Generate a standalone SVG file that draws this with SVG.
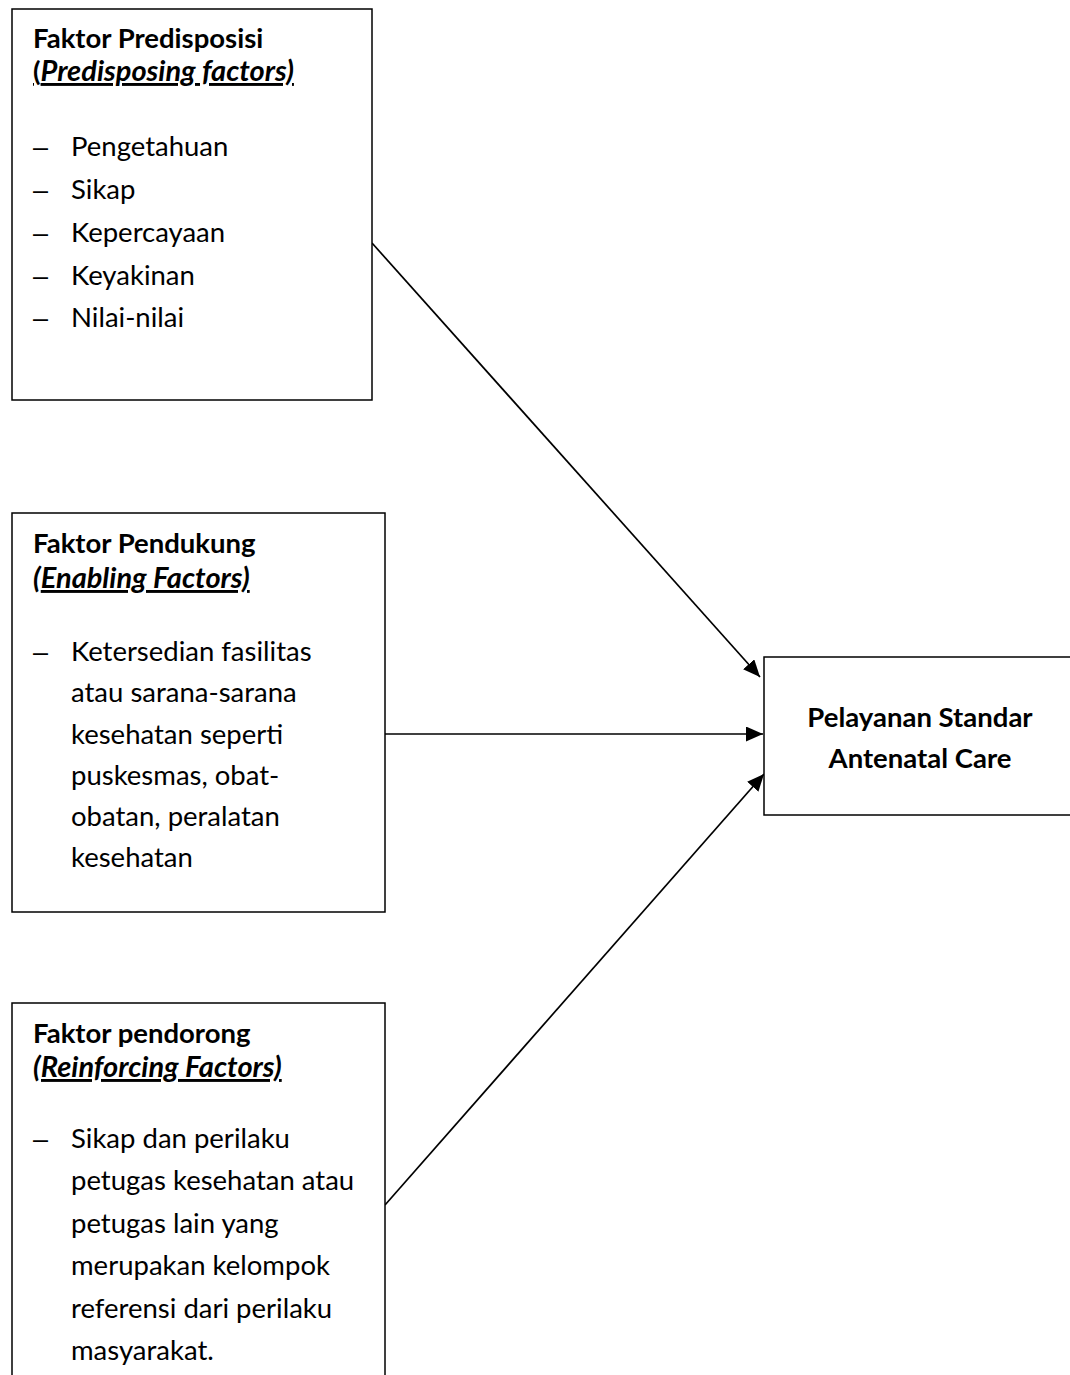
<svg xmlns="http://www.w3.org/2000/svg" width="1070" height="1375" viewBox="0 0 1070 1375">
<style>
.box{fill:#fff;stroke:#000;stroke-width:1.5}
.t{font-family:Lato,"Liberation Sans",sans-serif;font-size:27.5px;fill:#000}
.d{font-family:"Liberation Sans",sans-serif;font-size:27px;fill:#000}
.b{font-weight:bold}
.i{font-style:italic;font-size:29px}
.u{text-decoration:underline}
.con{stroke:#000;stroke-width:1.7;fill:none}
</style>
<defs>
<marker id="ah" markerUnits="userSpaceOnUse" markerWidth="18" markerHeight="16" refX="17" refY="7.5" orient="auto">
<path d="M0,0 L17,7.5 L0,15 z" fill="#000"/>
</marker>
</defs>
<rect width="1070" height="1375" fill="#fff"/>
<g id="connectors">
<line class="con" x1="372" y1="243" x2="760" y2="677" marker-end="url(#ah)"/>
<line class="con" x1="385" y1="734" x2="763" y2="734" marker-end="url(#ah)"/>
<line class="con" x1="385" y1="1205" x2="764" y2="774" marker-end="url(#ah)"/>
</g>
<g id="predisposing">
<rect class="box" x="12" y="9" width="360" height="391"/>
<text class="t b" x="33" y="48">Faktor Predisposisi</text>
<text class="t b u" x="33" y="81">(<tspan class="i">Predisposing factors)</tspan></text>
<text class="d" x="33" y="156">–</text><text class="t" x="71" y="156">Pengetahuan</text>
<text class="d" x="33" y="199">–</text><text class="t" x="71" y="199">Sikap</text>
<text class="d" x="33" y="242">–</text><text class="t" x="71" y="242">Kepercayaan</text>
<text class="d" x="33" y="285">–</text><text class="t" x="71" y="285">Keyakinan</text>
<text class="d" x="33" y="327">–</text><text class="t" x="71" y="327">Nilai-nilai</text>
</g>
<g id="enabling">
<rect class="box" x="12" y="513" width="373" height="399"/>
<text class="t b" x="33" y="553">Faktor Pendukung</text>
<text class="t b i" x="33" y="588">(<tspan class="u">Enabling Factors)</tspan></text>
<text class="d" x="33" y="661">–</text>
<text class="t" x="71" y="661">Ketersedian fasilitas</text>
<text class="t" x="71" y="702">atau sarana-sarana</text>
<text class="t" x="71" y="744">kesehatan seperti</text>
<text class="t" x="71" y="785">puskesmas, obat-</text>
<text class="t" x="71" y="826">obatan, peralatan</text>
<text class="t" x="71" y="867">kesehatan</text>
</g>
<g id="reinforcing">
<rect class="box" x="12" y="1003" width="373" height="400"/>
<text class="t b" x="33" y="1043">Faktor pendorong</text>
<text class="t b i u" x="33" y="1077">(Reinforcing Factors)</text>
<text class="d" x="33" y="1148">–</text>
<text class="t" x="71" y="1148">Sikap dan perilaku</text>
<text class="t" x="71" y="1190">petugas kesehatan atau</text>
<text class="t" x="71" y="1233">petugas lain yang</text>
<text class="t" x="71" y="1275">merupakan kelompok</text>
<text class="t" x="71" y="1318">referensi dari perilaku</text>
<text class="t" x="71" y="1360">masyarakat.</text>
</g>
<g id="outcome">
<rect class="box" x="764" y="657" width="320" height="158"/>
<text class="t b" x="920" y="727" text-anchor="middle">Pelayanan Standar</text>
<text class="t b" x="920" y="768" text-anchor="middle">Antenatal Care</text>
</g>
</svg>
